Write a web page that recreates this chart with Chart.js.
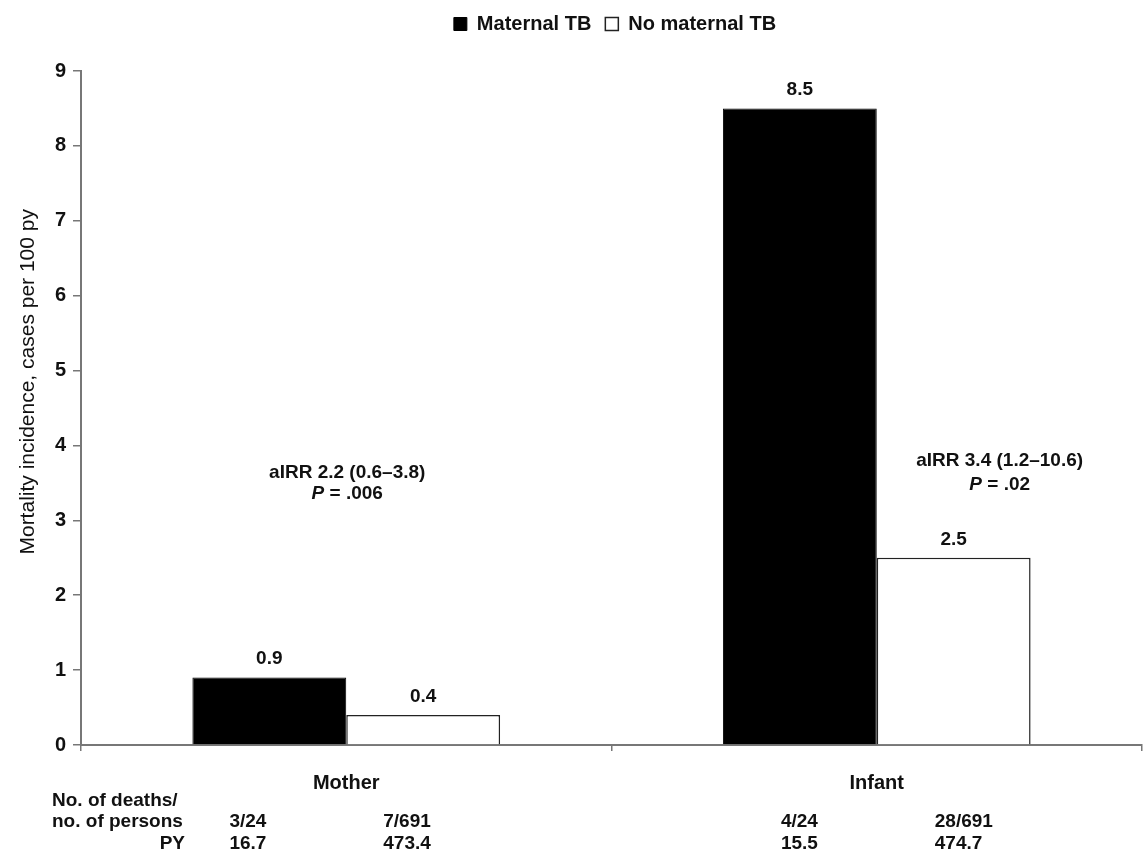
<!DOCTYPE html>
<html>
<head>
<meta charset="utf-8">
<script src="https://cdn.jsdelivr.net/npm/chart.js@4/dist/chart.umd.min.js"></script>
<style>
  html, body { margin: 0; padding: 0; background: #fff; }
  #wrap { width: 1144px; height: 865px; }
</style>
</head>
<body>
<div id="wrap"><canvas id="c" width="1144" height="865"></canvas></div>
<script>
// Groups on the x axis
const categories = ['Mother', 'Infant'];
// Series names
const seriesNames = ['Maternal TB', 'No maternal TB'];
// Mortality incidence, cases per 100 person-years
const maternalTB = [0.9, 8.5];
const noMaternalTB = [0.4, 2.5];
// Y axis ticks
const yTicks = [0, 1, 2, 3, 4, 5, 6, 7, 8, 9];
// Adjusted incidence rate ratios and P values, one per group
const airrText = ['aIRR 2.2 (0.6\u20133.8)', 'aIRR 3.4 (1.2\u201310.6)'];
const pText = ['.006', '.02'];
// Table below the axis: [maternal TB, no maternal TB] per group
const deathsPersons = [['3/24', '7/691'], ['4/24', '28/691']];
const personYears = [['16.7', '473.4'], ['15.5', '474.7']];
const rowLabels = ['No. of deaths/', 'no. of persons', 'PY'];
const yTitle = 'Mortality incidence, cases per 100 py';

const FONT = '"Liberation Sans", Arial, Helvetica, sans-serif';
const INK = '#111';
const bold = (s) => 'bold ' + s + 'px ' + FONT;

// Fixed frame of the plot area
const AREA = { left: 81, top: 71, bottom: 745, right: 1142 };

const overlay = {
  id: 'overlay',
  beforeInit(chart) {
    const lg = chart.legend;
    const fit = lg.fit;
    lg.fit = function () {
      fit.call(this);
      this.height = AREA.top;
    };
  },
  afterLayout(chart) {
    // legend is centred a little right of the plot area's middle
    const lg = chart.legend;
    const shift = 615 - (lg.left + lg.right) / 2;
    lg.left += shift;
    lg.right += shift;
  },
  afterDatasetsDraw(chart) {
    const ctx = chart.ctx;
    const xs = chart.scales.x, ys = chart.scales.y;
    ctx.save();
    ctx.fillStyle = INK;

    // value labels above bars
    ctx.font = bold(19);
    ctx.textAlign = 'center';
    ctx.textBaseline = 'bottom';
    chart.data.datasets.forEach((ds, di) => {
      chart.getDatasetMeta(di).data.forEach((bar, i) => {
        ctx.fillText(ds.data[i].toFixed(1), bar.x, bar.y - 9);
      });
    });

    // aIRR annotations
    const annX = [xs.getPixelForValue(0) + 1, chart.getDatasetMeta(1).data[1].x + 46];
    const annY = [[3.64, 3.36], [3.8, 3.47]];
    categories.forEach((c, i) => {
      ctx.font = bold(19);
      ctx.textAlign = 'center';
      ctx.textBaseline = 'middle';
      ctx.fillText(airrText[i], annX[i], ys.getPixelForValue(annY[i][0]));
      // "P = value" with italic P
      const pPart = 'P';
      const rest = ' = ' + pText[i];
      ctx.font = 'italic ' + bold(19);
      const wP = ctx.measureText(pPart).width;
      ctx.font = bold(19);
      const wR = ctx.measureText(rest).width;
      const x0 = annX[i] - (wP + wR) / 2;
      const y = ys.getPixelForValue(annY[i][1]);
      ctx.textAlign = 'left';
      ctx.font = 'italic ' + bold(19);
      ctx.fillText(pPart, x0, y);
      ctx.font = bold(19);
      ctx.fillText(rest, x0 + wP, y);
    });

    // table under the axis
    ctx.font = bold(19);
    ctx.textBaseline = 'middle';
    const rowY = [801, 822, 844];
    ctx.textAlign = 'left';
    ctx.fillText(rowLabels[0], 52, rowY[0]);
    ctx.fillText(rowLabels[1], 52, rowY[1]);
    ctx.textAlign = 'right';
    ctx.fillText(rowLabels[2], 185, rowY[2]);
    const colShift = [37, 58];
    categories.forEach((c, i) => {
      [0, 1].forEach((di) => {
        const bar = chart.getDatasetMeta(di).data[i];
        const left = bar.x - bar.width / 2 + colShift[i];
        ctx.textAlign = 'left';
        ctx.fillText(deathsPersons[i][di], left, rowY[1]);
        ctx.fillText(personYears[i][di], left, rowY[2]);
      });
    });

    // y axis title
    ctx.translate(28, ys.getPixelForValue(4.85));
    ctx.rotate(-Math.PI / 2);
    ctx.font = '21px ' + FONT;
    ctx.textAlign = 'center';
    ctx.textBaseline = 'middle';
    ctx.fillText(yTitle, 0, 0);
    ctx.restore();
  }
};

new Chart(document.getElementById('c'), {
  type: 'bar',
  data: {
    labels: categories,
    datasets: [
      { label: seriesNames[0], data: maternalTB, backgroundColor: '#000', borderColor: '#000', borderWidth: 1 },
      { label: seriesNames[1], data: noMaternalTB, backgroundColor: '#fff', borderColor: '#222', borderWidth: 1.5 }
    ]
  },
  options: {
    responsive: false,
    animation: false,
    events: [],
    categoryPercentage: 0.58,
    barPercentage: 1.0,
    layout: { padding: { left: 0, right: 1144 - AREA.right, top: 0, bottom: 0 } },
    plugins: {
      legend: {
        position: 'top',
        labels: {
          boxWidth: 13, boxHeight: 13, padding: 14,
          color: INK, font: { family: FONT, size: 20, weight: 'bold' }
        }
      },
      tooltip: { enabled: false }
    },
    scales: {
      x: {
        afterFit(s) { s.height = 865 - AREA.bottom; },
        grid: { offset: true, drawOnChartArea: false, tickLength: 6, color: '#777', lineWidth: 1.5 },
        border: { color: '#777', width: 2 },
        ticks: { color: INK, padding: 20, font: { family: FONT, size: 20, weight: 'bold' } }
      },
      y: {
        min: yTicks[0], max: yTicks[yTicks.length - 1],
        afterFit(s) { s.width = AREA.left; },
        afterBuildTicks(s) { s.ticks = yTicks.map(v => ({ value: v })); },
        grid: { drawOnChartArea: false, tickLength: 8, color: '#777', lineWidth: 1.5 },
        border: { color: '#777', width: 2 },
        ticks: { color: INK, padding: 7, font: { family: FONT, size: 20, weight: 'bold' } }
      }
    }
  },
  plugins: [overlay]
});
</script>
</body>
</html>
